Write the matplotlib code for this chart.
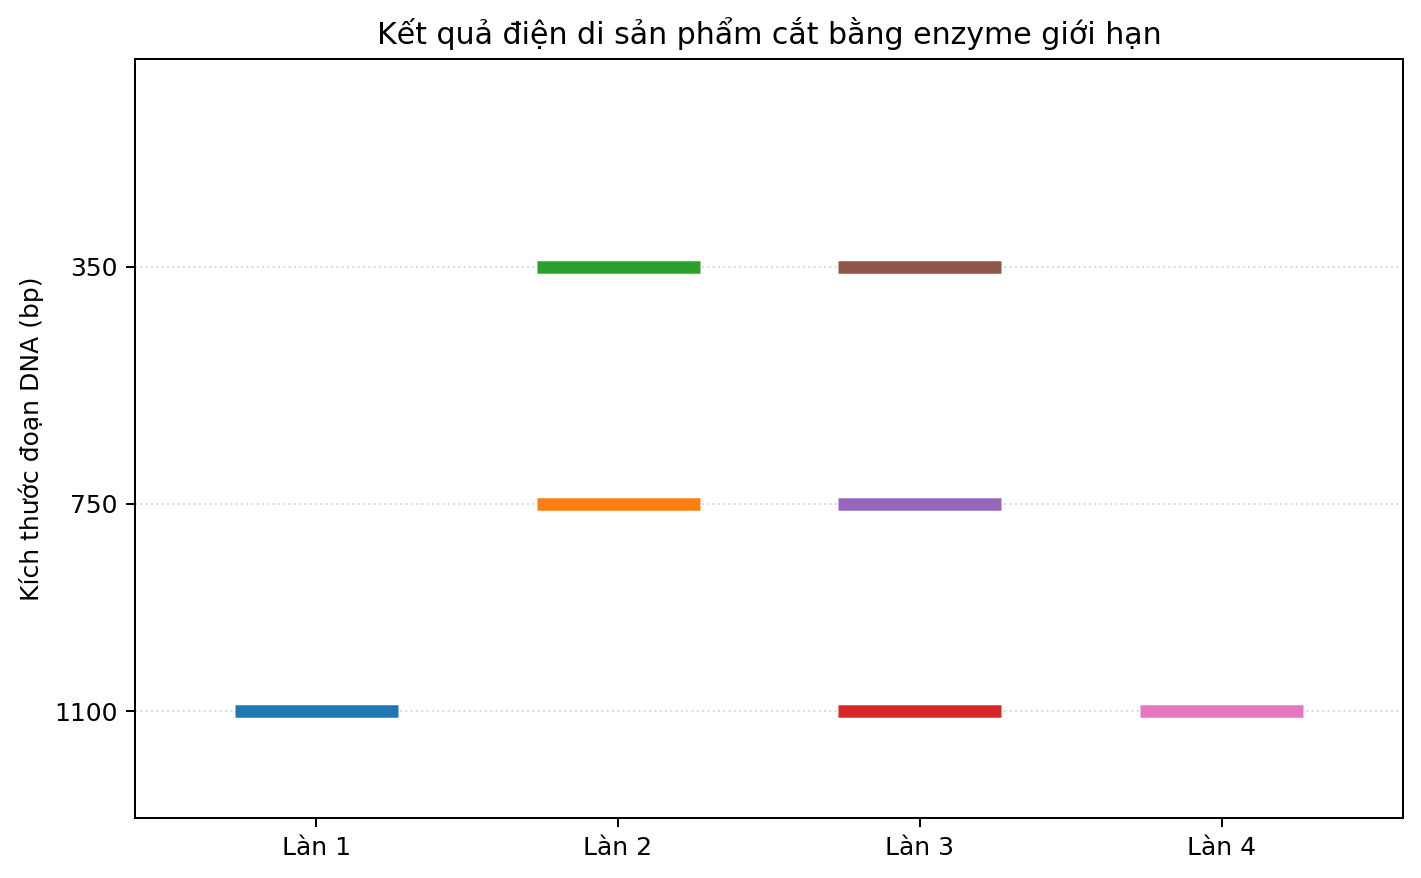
import matplotlib
matplotlib.use("Agg")
import matplotlib.pyplot as plt

# du lieu cac vach dien di
lanes = ["Làn 1", "Làn 2", "Làn 3", "Làn 4"]
lane_pos = [1, 2, 3, 4]
band_lane = [1, 2, 2, 3, 3, 3, 4]
band_size = [1100, 750, 350, 1100, 750, 350, 1100]
band_color = ["#1f77b4", "#ff7f0e", "#2ca02c", "#d62728",
              "#9467bd", "#8c564b", "#e377c2"]
yticks = [350, 750, 1100]

DPI = 180


def main():
    fig = plt.figure(figsize=(1421 / DPI, 878 / DPI), dpi=DPI)
    ax = fig.add_axes([135 / 1421, 1 - 818 / 878,
                       (1403 - 135) / 1421, (818 - 59) / 878])

    half = 0.27
    for lane, size, c in zip(band_lane, band_size, band_color):
        ax.hlines(size, lane - half, lane + half, colors=c,
                  linewidth=5, zorder=3)

    ax.set_xlim(0.4, 4.6)
    ax.set_ylim(1280, 0)
    ax.set_xticks(lane_pos)
    ax.set_xticklabels(lanes)
    ax.set_yticks(yticks)
    ax.set_yticklabels([str(v) for v in yticks])
    ax.yaxis.grid(True, linestyle=":", color="lightgray", alpha=0.8)
    ax.set_ylabel("Kích thước đoạn DNA (bp)")
    ax.set_title("Kết quả điện di sản phẩm cắt bằng enzyme giới hạn")

    fig.savefig("out.png", dpi=DPI)


if __name__ == "__main__":
    main()
